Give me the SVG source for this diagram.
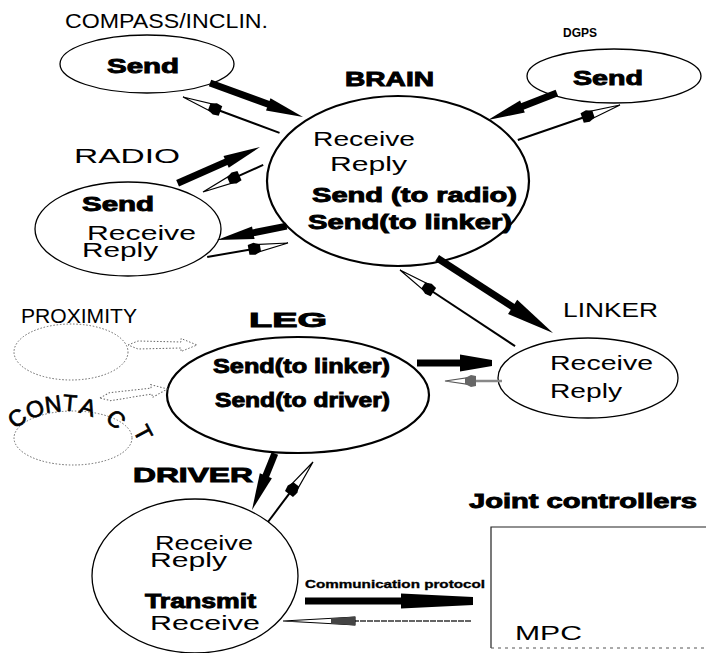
<svg xmlns="http://www.w3.org/2000/svg" xmlns:xlink="http://www.w3.org/1999/xlink" width="706" height="653" viewBox="0 0 706 653">
<style>
text{font-family:"Liberation Sans",Arial,sans-serif;fill:#000}
.r{font-size:20px}
.b{font-size:20px;font-weight:bold;stroke:#000;stroke-width:0.9}
.c{font-size:23px;text-anchor:middle;stroke:#000;stroke-width:0.7}
.el{fill:none;stroke:#000;stroke-width:1.3}
.elb{fill:none;stroke:#000;stroke-width:2.2}
.dot{fill:none;stroke:#666;stroke-width:1;stroke-dasharray:1.5 1.8}
.tk{stroke:#000;stroke-width:7;fill:none}
.tn{stroke:#000;stroke-width:2;fill:none}
</style>
<defs>
<path id="hT" d="M0,0 L-37,-6.5 L-37,6.5 Z" fill="#000"/>
<path id="hB" d="M0,-3 L-32,-8.5 L-32,8.5 L0,3 Z" fill="#000"/>
<g id="hN">
<path d="M0,0 L-36,-4.5 L-36,4.5 Z" fill="#fff" stroke="#000" stroke-width="1.2"/>
<path d="M-28,-3.5 L-34,-6 L-40,-5 L-40,5 L-34,6 L-28,3.5 Z" fill="#000"/>
</g>
</defs>

<g id="compass">
<ellipse class="el" cx="147" cy="64" rx="87" ry="29"/>
<text class="r" x="65" y="28" font-size="21" textLength="203" lengthAdjust="spacingAndGlyphs">COMPASS/INCLIN.</text>
<text class="b" x="107" y="73" textLength="72" lengthAdjust="spacingAndGlyphs">Send</text>
</g>

<g id="dgps">
<ellipse class="el" cx="614" cy="76" rx="87" ry="27"/>
<text x="563" y="37" font-size="12.5" font-weight="bold" textLength="34" lengthAdjust="spacingAndGlyphs">DGPS</text>
<text class="b" x="573" y="85" textLength="70" lengthAdjust="spacingAndGlyphs">Send</text>
</g>

<g id="brain">
<ellipse class="elb" cx="398" cy="181" rx="131" ry="85"/>
<text class="b" x="345" y="86" textLength="89" lengthAdjust="spacingAndGlyphs">BRAIN</text>
<text class="r" x="313" y="146" textLength="102" lengthAdjust="spacingAndGlyphs">Receive</text>
<text class="r" x="330" y="171" textLength="77" lengthAdjust="spacingAndGlyphs">Reply</text>
<text class="b" x="312" y="202" textLength="205" lengthAdjust="spacingAndGlyphs">Send (to radio)</text>
<text class="b" x="308" y="229" textLength="204" lengthAdjust="spacingAndGlyphs">Send(to linker)</text>
</g>

<g id="radio">
<ellipse class="el" cx="128" cy="229" rx="93" ry="47"/>
<text class="r" x="74" y="163" font-size="18" textLength="106" lengthAdjust="spacingAndGlyphs">RADIO</text>
<text class="b" x="82" y="211" font-size="19" textLength="72" lengthAdjust="spacingAndGlyphs">Send</text>
<text class="r" x="87" y="240" textLength="109" lengthAdjust="spacingAndGlyphs">Receive</text>
<text class="r" x="82" y="257" textLength="76" lengthAdjust="spacingAndGlyphs">Reply</text>
</g>

<g id="proximity">
<ellipse class="dot" cx="71" cy="352" rx="57" ry="28"/>
<text class="r" x="21" y="323" font-size="15" textLength="116" lengthAdjust="spacingAndGlyphs">PROXIMITY</text>
</g>

<g id="contact">
<ellipse class="dot" cx="73" cy="438" rx="59" ry="27"/>
<text class="c" x="17" y="426" transform="rotate(-35 17 418)">C</text>
<text class="c" x="35" y="417" transform="rotate(-20 35 409)">O</text>
<text class="c" x="53" y="412" transform="rotate(-7 53 404)">N</text>
<text class="c" x="70" y="411" transform="rotate(5 70 403)">T</text>
<text class="c" x="88" y="415" transform="rotate(18 88 407)">A</text>
<text class="c" x="116" y="427" transform="rotate(42 116 419)">C</text>
<text class="c" x="143" y="441" transform="rotate(62 143 433)">T</text>
</g>

<g id="leg">
<ellipse class="elb" cx="298" cy="395" rx="131" ry="58"/>
<text class="b" x="249" y="327" font-size="18" textLength="78" lengthAdjust="spacingAndGlyphs">LEG</text>
<text class="b" x="213" y="373" font-size="19" textLength="177" lengthAdjust="spacingAndGlyphs">Send(to linker)</text>
<text class="b" x="215" y="407" font-size="19" textLength="175" lengthAdjust="spacingAndGlyphs">Send(to driver)</text>
</g>

<g id="linker">
<ellipse class="el" cx="588" cy="378" rx="90" ry="40"/>
<text class="r" x="563" y="317" font-size="17" textLength="95" lengthAdjust="spacingAndGlyphs">LINKER</text>
<text class="r" x="550" y="370" textLength="103" lengthAdjust="spacingAndGlyphs">Receive</text>
<text class="r" x="550" y="398" textLength="72" lengthAdjust="spacingAndGlyphs">Reply</text>
</g>

<g id="driver">
<ellipse class="el" cx="195" cy="576" rx="103" ry="77"/>
<text class="b" x="133" y="482" font-size="22" textLength="120" lengthAdjust="spacingAndGlyphs">DRIVER</text>
<text class="r" x="155" y="550" textLength="98" lengthAdjust="spacingAndGlyphs">Receive</text>
<text class="r" x="150" y="567" textLength="77" lengthAdjust="spacingAndGlyphs">Reply</text>
<text class="b" x="145" y="608" textLength="111" lengthAdjust="spacingAndGlyphs">Transmit</text>
<text class="r" x="150" y="630" textLength="110" lengthAdjust="spacingAndGlyphs">Receive</text>
</g>

<g id="joint">
<path d="M706,527 H491 V648" fill="none" stroke="#222" stroke-width="1.2"/>
<line x1="491" y1="648" x2="706" y2="648" stroke="#555" stroke-width="1" stroke-dasharray="3 4"/>
<text class="b" x="469" y="508" font-size="19" textLength="228" lengthAdjust="spacingAndGlyphs">Joint controllers</text>
<text class="r" x="515" y="640" textLength="67" lengthAdjust="spacingAndGlyphs">MPC</text>
</g>

<g id="connectors">
<g transform="translate(303,117) rotate(20.1)"><line class="tk" x1="-99" y1="0" x2="-34" y2="0"/><use xlink:href="#hT"/></g>
<g transform="translate(183,97) rotate(200.4)"><line class="tn" x1="-103" y1="0" x2="-38" y2="0"/><use xlink:href="#hN"/></g>
<g transform="translate(488,120) rotate(158.6)"><line class="tk" x1="-74" y1="0" x2="-34" y2="0"/><use xlink:href="#hT"/></g>
<g transform="translate(620,105) rotate(-18.9)"><line class="tn" x1="-108" y1="0" x2="-38" y2="0"/><use xlink:href="#hN"/></g>
<g transform="translate(260,147) rotate(-23.7)"><line class="tk" x1="-90" y1="0" x2="-34" y2="0"/><use xlink:href="#hT"/></g>
<g transform="translate(203,192) rotate(155.8)"><line class="tn" x1="-66" y1="0" x2="-38" y2="0"/><use xlink:href="#hN"/></g>
<g transform="translate(217,240) rotate(168.7)"><line class="tk" x1="-71" y1="0" x2="-34" y2="0"/><use xlink:href="#hT"/></g>
<g transform="translate(288,243) rotate(-9.8)"><line class="tn" x1="-82" y1="0" x2="-38" y2="0"/><use xlink:href="#hN"/></g>
<g transform="translate(553,333) rotate(32.9)"><line class="tk" stroke-width="9" x1="-138" y1="0" x2="-44" y2="0"/><use xlink:href="#hT" transform="scale(1.3)"/></g>
<g transform="translate(400,270) rotate(213.5)"><line class="tn" x1="-138" y1="0" x2="-38" y2="0"/><use xlink:href="#hN"/></g>
<g transform="translate(492,363)"><line class="tk" stroke-width="8" x1="-75" y1="0" x2="-30" y2="0"/><use xlink:href="#hB"/></g>
<g transform="translate(445,381) rotate(180)">
<line x1="-57" y1="0" x2="-28" y2="0" stroke="#888" stroke-width="2.5"/>
<path d="M0,0 L-28,-4 L-28,4 Z" fill="#fff" stroke="#555" stroke-width="1.2"/>
<path d="M-20,-3 L-26,-6 L-31,-5 L-31,5 L-26,6 L-20,3 Z" fill="#666"/>
</g>
<g transform="translate(252,510) rotate(112)"><line class="tk" x1="-61" y1="0" x2="-34" y2="0"/><use xlink:href="#hT"/></g>
<g transform="translate(313,462) rotate(-53.1)"><line class="tn" x1="-75" y1="0" x2="-38" y2="0"/><use xlink:href="#hN"/></g>
<g transform="translate(473,601)"><line class="tk" stroke-width="9.5" x1="-168" y1="0" x2="-70" y2="0"/><path d="M0,-4 L-72,-7.5 L-72,7.5 L0,4 Z" fill="#000"/></g>
<g transform="translate(283,621) rotate(180)">
<line x1="-188" y1="0" x2="-72" y2="0" stroke="#333" stroke-width="1.6" stroke-dasharray="6 1"/>
<path d="M0,0 L-72,-4 L-72,4 Z" fill="#fff" stroke="#000" stroke-width="1.1"/>
<path d="M-48,-2.6 L-72,-4.5 L-72,4.5 L-48,2.6 Z" fill="#444"/>
</g>
<text x="305" y="588" font-size="10" font-weight="bold" stroke="#000" stroke-width="0.3" textLength="180" lengthAdjust="spacingAndGlyphs">Communication protocol</text>
<polygon class="dot" transform="translate(128,345)" points="0,0 10,-4 53,-3 53,-6.5 69,0 53,6.5 53,3 10,4"/>
<polygon class="dot" transform="translate(100,398) rotate(-7.65)" points="0,0 10,-4 52,-3 52,-6.5 68,0 52,6.5 52,3 10,4"/>
</g>
</svg>
